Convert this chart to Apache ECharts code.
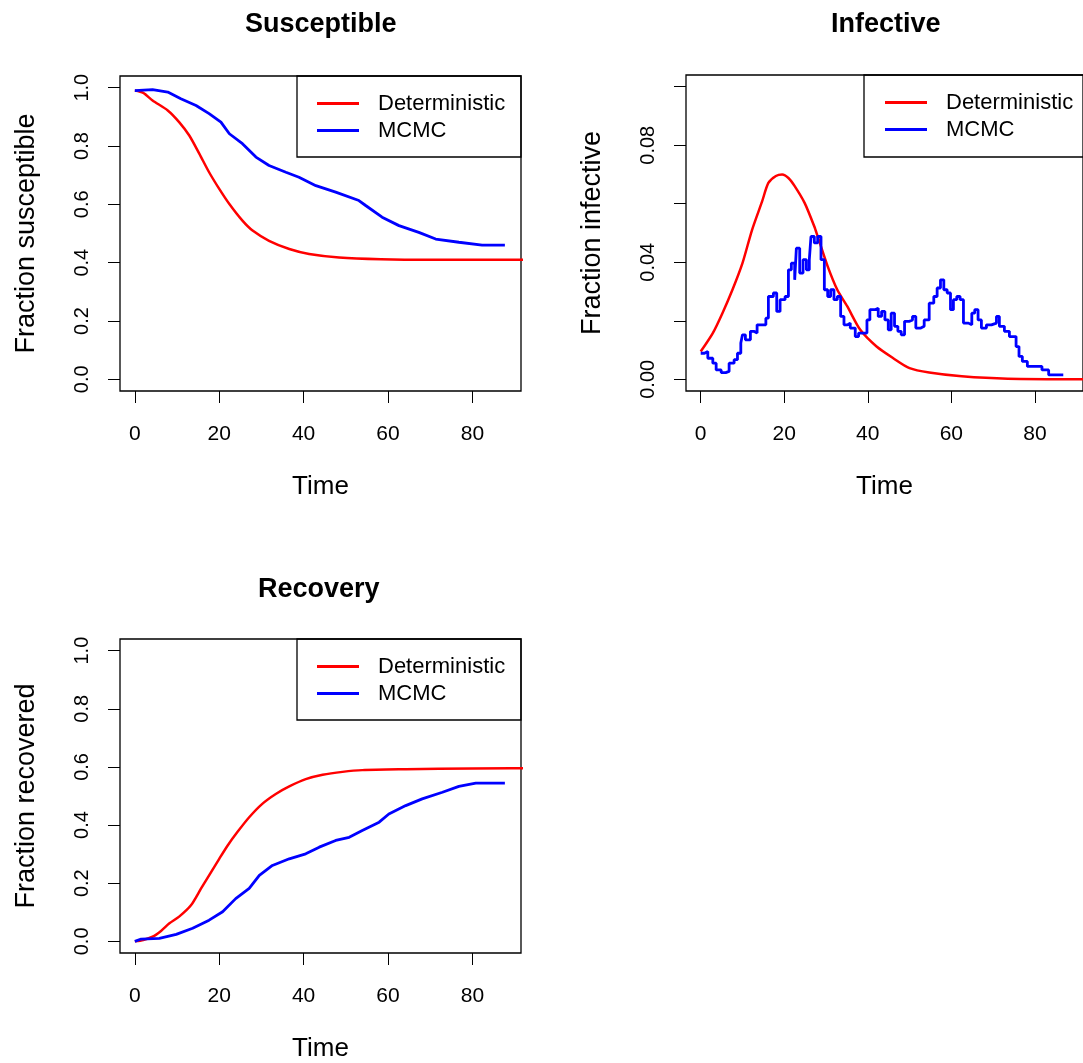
<!DOCTYPE html>
<html>
<head>
<meta charset="utf-8">
<script src="https://cdn.jsdelivr.net/npm/echarts@6/dist/echarts.min.js"></script>
<style>
  html, body { margin: 0; padding: 0; background: #ffffff; }
  #chart { width: 1083px; height: 1063px; }
</style>
</head>
<body>
<div id="chart"></div>
<script>
// ---------------- data ----------------
const panelTitles = ['Susceptible', 'Infective', 'Recovery'];
const yNames = ['Fraction susceptible', 'Fraction infective', 'Fraction recovered'];
const seriesNames = ['Deterministic', 'MCMC'];
const timeTicks = [0, 20, 40, 60, 80];
const fracTicks = [0, 0.2, 0.4, 0.6, 0.8, 1.0];
const infTicks = [0, 0.02, 0.04, 0.06, 0.08, 0.10];
const infLabels = [0, 0.04, 0.08];

const susDet = [[0,0.99],[2,0.982],[4.2,0.956],[7.8,0.922],[10.5,0.882],[12.9,0.836],[15.3,0.773],
  [17.6,0.71],[20,0.653],[22.4,0.601],[25.5,0.544],[27.9,0.51],[31.8,0.475],[36.6,0.447],
  [41.3,0.43],[48.4,0.418],[58.3,0.412],[70,0.41],[100,0.41]];
const susMCMC = [[0,0.99],[4.2,0.993],[7.8,0.985],[10.9,0.962],[14.5,0.939],[17.6,0.911],[20.4,0.882],
  [22.4,0.842],[25.5,0.808],[28.7,0.762],[31.8,0.733],[35.8,0.71],[38.9,0.693],[42.9,0.664],
  [47.6,0.642],[53.1,0.613],[54.7,0.596],[58.6,0.556],[62.6,0.527],[67.3,0.504],[71.3,0.481],
  [76.8,0.47],[82.3,0.46],[87.7,0.46]];

const infDet = [[0,0.0095],[2.9,0.0158],[5.2,0.0226],[7.6,0.0306],[10,0.0397],[12.3,0.0511],
  [14.7,0.0608],[16.2,0.0671],[18,0.0695],[19.5,0.070],[21,0.0688],[22.5,0.066],[24.9,0.0602],
  [27.2,0.0522],[28,0.0488],[30.4,0.0386],[32.7,0.0306],[35.1,0.0249],[38.2,0.0169],[42.1,0.0112],
  [46.1,0.0072],[50,0.0038],[54.7,0.0023],[62.5,0.001],[73.5,0.0002],[100,0.0]];
const infMCMC = [[0,0.0089],[0.9,0.0095],[1.7,0.0072],[2.9,0.0055],[3.7,0.0032],[4.9,0.0023],
  [6.0,0.0027],[6.8,0.0055],[8.0,0.0067],[8.8,0.0089],[9.6,0.0124],[10.0,0.0152],[10.7,0.0135],
  [11.9,0.0164],[12.7,0.0158],[13.5,0.0186],[14.7,0.0186],[15.6,0.0209],[16.2,0.0283],[17.4,0.0295],
  [18.2,0.0232],[19.0,0.0272],[20.2,0.0283],[21.0,0.0374],[21.7,0.0397],[22.5,0.034],[22.9,0.0448],
  [23.7,0.0363],[24.5,0.0409],[25.3,0.0374],[26.0,0.0409],[26.4,0.0488],[27.2,0.0466],[28.0,0.0488],
  [28.8,0.0409],[29.6,0.0306],[30.4,0.0283],[31.1,0.0306],[31.9,0.0272],[32.7,0.0283],[33.5,0.0215],
  [34.3,0.0186],[35.1,0.0192],[35.8,0.0175],[37.0,0.0146],[37.8,0.0158],[39.0,0.0158],[39.8,0.0203],
  [40.5,0.0238],[41.7,0.0243],[42.5,0.0215],[43.3,0.0232],[44.1,0.0203],[44.9,0.0169],[45.6,0.0226],
  [46.4,0.0181],[47.2,0.0164],[48.0,0.0152],[48.8,0.0198],[50.0,0.0203],[50.7,0.0215],[51.5,0.0175],
  [52.7,0.0181],[53.5,0.0203],[54.7,0.026],[55.8,0.0283],[56.6,0.0312],[57.4,0.034],[58.2,0.0306],
  [59.0,0.0295],[59.8,0.0238],[60.5,0.0272],[61.3,0.0283],[62.1,0.0272],[62.9,0.0192],[64.1,0.0186],
  [64.9,0.0226],[65.6,0.0238],[66.4,0.0203],[67.2,0.0175],[68.4,0.0186],[69.6,0.0192],[70.8,0.0215],
  [71.5,0.0181],[72.7,0.0164],[73.9,0.0146],[74.7,0.0146],[75.5,0.0112],[76.2,0.0078],[77.0,0.0061],
  [78.2,0.0044],[80.5,0.0044],[81.7,0.0032],[83.3,0.0015],[86.8,0.0015]];

const recDet = [[0,0.0],[2,0.005],[4.2,0.016],[6.2,0.036],[8.2,0.062],[10.5,0.085],[13.3,0.124],[15.7,0.182],[17.6,0.227],
  [20,0.284],[22,0.33],[24.3,0.376],[27.1,0.427],[30.2,0.473],[33.4,0.507],[36.6,0.533],[40.5,0.558],
  [44.5,0.573],[49.2,0.583],[53.9,0.589],[64.2,0.592],[80,0.595],[100,0.596]];
const recMCMC = [[0,0.0],[1.5,0.008],[5.8,0.01],[9.8,0.024],[13.7,0.045],[17.6,0.073],[20.8,0.102],
  [23.9,0.147],[27.1,0.182],[29.5,0.227],[32.6,0.261],[36.6,0.284],[40.5,0.301],[43.7,0.324],
  [47.6,0.347],[50.8,0.358],[53.9,0.381],[57.9,0.41],[60.2,0.438],[64.2,0.467],[68.1,0.49],
  [72.9,0.513],[76.8,0.533],[80.8,0.544],[87.7,0.544]];

// ---------------- styling / layout ----------------
const FONT = 'Liberation Sans, Arial, Helvetica, sans-serif';
const RED = '#ff0000', BLUE = '#0000ff';
const grids = [
  { left: 120, top: 76, width: 401, height: 315 },
  { left: 686, top: 75, width: 404, height: 316 },
  { left: 120, top: 639, width: 401, height: 316 }
];
const yRanges = [[-0.04, 1.04], [-0.004, 0.104], [-0.04, 1.04]];

function xAxis(i) {
  return {
    type: 'value', gridIndex: i, min: -3.52, max: 91.52, position: 'bottom',
    name: 'Time', nameLocation: 'middle', nameGap: 83,
    nameTextStyle: { fontFamily: FONT, fontSize: 26, color: '#000' },
    axisLine: { show: false, onZero: false },
    axisTick: { show: true, inside: false, length: 12, customValues: timeTicks, lineStyle: { color: '#000', width: 1 } },
    axisLabel: { customValues: timeTicks, margin: 33, fontFamily: FONT, fontSize: 21, color: '#000',
      formatter: v => String(Math.round(v)) },
    splitLine: { show: false }
  };
}
function yAxis(i) {
  const isInf = i === 1;
  return {
    type: 'value', gridIndex: i, min: yRanges[i][0], max: yRanges[i][1], position: 'left',
    name: yNames[i], nameLocation: 'middle', nameGap: 80, nameRotate: 90,
    nameTextStyle: { fontFamily: FONT, fontSize: 27, color: '#000' },
    axisLine: { show: false, onZero: false },
    axisTick: { show: true, inside: false, length: 12, customValues: isInf ? infTicks : fracTicks, lineStyle: { color: '#000', width: 1 } },
    axisLabel: { customValues: isInf ? infLabels : fracTicks, rotate: 90, margin: 28,
      fontFamily: FONT, fontSize: 20, color: '#000',
      formatter: v => isInf ? v.toFixed(2) : v.toFixed(1) },
    splitLine: { show: false }
  };
}
function line(name, data, idx, color, step) {
  return {
    type: 'line', name: name, xAxisIndex: idx, yAxisIndex: idx, data: data,
    showSymbol: false, symbol: 'none', step: step || false, color: color,
    smooth: name === 'Deterministic' ? 0.25 : false,
    lineStyle: { color: color, width: name === 'MCMC' ? 2.8 : 2.5 }, itemStyle: { color: color },
    animation: false, z: name === 'MCMC' ? 3 : 2
  };
}
function legend(left, top) {
  return {
    left: left, top: top, orient: 'vertical', padding: 0, itemGap: 0,
    itemWidth: 42, itemHeight: 3, icon: 'rect', selectedMode: false,
    data: seriesNames,
    textStyle: { fontFamily: FONT, fontSize: 22, color: '#000', lineHeight: 27, padding: [0, 0, 0, 14] }
  };
}
const titleDefs = [
  { text: panelTitles[0], left: 245, top: 11 },
  { text: panelTitles[1], left: 831, top: 11 },
  { text: panelTitles[2], left: 258, top: 576 }
];

const option = {
  backgroundColor: '#ffffff',
  animation: false,
  title: titleDefs.map(t => ({ text: t.text, left: t.left, top: t.top, padding: 0,
    textStyle: { fontFamily: FONT, fontSize: 27, fontWeight: 'bold', color: '#000' } })),
  grid: grids.map(g => Object.assign({ show: true, borderColor: '#000', borderWidth: 1.3,
    backgroundColor: 'transparent', containLabel: false }, g)),
  xAxis: [0, 1, 2].map(xAxis),
  yAxis: [0, 1, 2].map(yAxis),
  legend: [legend(317, 90), legend(885, 89), legend(317, 653)],
  graphic: [
    { type: 'rect', shape: { x: 297, y: 76, width: 224, height: 81 }, style: { fill: 'none', stroke: '#000', lineWidth: 1.3 }, z: 10 },
    { type: 'rect', shape: { x: 864, y: 75, width: 300, height: 82 }, style: { fill: 'none', stroke: '#000', lineWidth: 1.3 }, z: 10 },
    { type: 'rect', shape: { x: 297, y: 639, width: 224, height: 81 }, style: { fill: 'none', stroke: '#000', lineWidth: 1.3 }, z: 10 }
  ],
  series: [
    line('Deterministic', susDet, 0, RED),
    line('MCMC', susMCMC, 0, BLUE),
    line('Deterministic', infDet, 1, RED),
    line('MCMC', infMCMC, 1, BLUE, 'end'),
    line('Deterministic', recDet, 2, RED),
    line('MCMC', recMCMC, 2, BLUE)
  ]
};
const chart = echarts.init(document.getElementById('chart'), null, { renderer: 'canvas' });
chart.setOption(option);
</script>
</body>
</html>
